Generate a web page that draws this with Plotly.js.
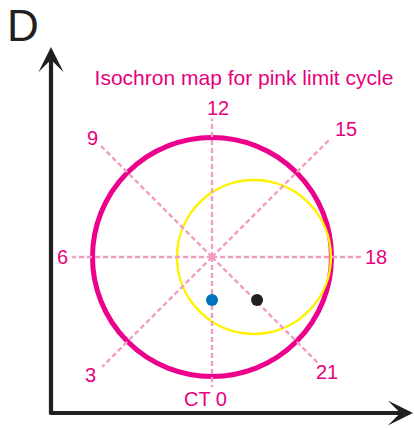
<!DOCTYPE html>
<html>
<head>
<meta charset="utf-8">
<script src="https://cdn.plot.ly/plotly-3.0.1.min.js"></script>
<style>html,body{margin:0;padding:0;background:#fff;}#chart{width:414px;height:428px;}</style>
</head>
<body>
<div id="chart"></div>
<script>
// ---- data (units: radius of the pink limit cycle = 1, centred at origin) ----
var panelLabel = 'D';
var chartTitle = 'Isochron map for pink limit cycle';
var phaseCT = [0, 3, 6, 9, 12, 15, 18, 21];
var phaseLabels = ['CT 0', '3', '6', '9', '12', '15', '18', '21'];
var rayLength = [1.09, 1.30, 1.17, 1.33, 1.16, 1.39, 1.26, 1.25];
var pinkCycle = {cx: 0, cy: 0, r: 1};
var yellowCycle = {cx: 0.351, cy: 0, r: 0.644};
var pointX = [0, 0.377];
var pointY = [-0.36, -0.36];
var pointColors = ['#0072bc', '#231f20'];

// ---- layout helpers (label placement only) ----
var labelRadius = [1.19, 1.40, 1.25, 1.41, 1.25, 1.51, 1.37, 1.36];
var labelShiftX = [-7, -3, 0, 0, 6, 6, 0, 0];

function ang(ct) { return (-90 - 15 * ct) * Math.PI / 180; }

var traces = [];
phaseCT.forEach(function (ct, i) {
  var a = ang(ct);
  traces.push({
    type: 'scatter', mode: 'lines',
    x: [0, rayLength[i] * Math.cos(a)],
    y: [0, rayLength[i] * Math.sin(a)],
    line: {color: '#f39cc3', width: 2.4, dash: '5px,3px'},
    hoverinfo: 'skip', showlegend: false
  });
});
traces.push({
  type: 'scatter', mode: 'markers',
  x: pointX, y: pointY,
  marker: {size: 12, color: pointColors, line: {width: 0}},
  hoverinfo: 'skip', showlegend: false
});

var annotations = phaseCT.map(function (ct, i) {
  var a = ang(ct);
  return {
    x: labelRadius[i] * Math.cos(a), y: labelRadius[i] * Math.sin(a),
    xref: 'x', yref: 'y', text: phaseLabels[i], showarrow: false,
    xanchor: 'center', yanchor: 'middle', xshift: labelShiftX[i],
    font: {family: 'Liberation Sans, Arial, sans-serif', size: 20, color: '#e6007e'}
  };
});
// panel letter
annotations.push({
  x: 23 / 414, y: 1 - 26 / 428, xref: 'paper', yref: 'paper', text: panelLabel,
  showarrow: false, xanchor: 'center', yanchor: 'middle',
  font: {family: 'Liberation Sans, Arial, sans-serif', size: 44, color: '#231f20'}
});
// axis arrows
annotations.push({
  x: 51 / 414, y: 1 - 47 / 428, xref: 'paper', yref: 'paper',
  ax: 0, ay: 369, axref: 'pixel', ayref: 'pixel', text: '',
  showarrow: true, arrowhead: 3, arrowsize: 1.0, arrowwidth: 4.2, arrowcolor: '#231f20'
});
annotations.push({
  x: 414 / 414, y: 1 - 413 / 428, xref: 'paper', yref: 'paper',
  ax: -365, ay: 0, axref: 'pixel', ayref: 'pixel', text: '',
  showarrow: true, arrowhead: 3, arrowsize: 1.0, arrowwidth: 4.2, arrowcolor: '#231f20'
});

function circleShape(c, color, w) {
  return {type: 'circle', xref: 'x', yref: 'y', layer: 'below',
    x0: c.cx - c.r, x1: c.cx + c.r, y0: c.cy - c.r, y1: c.cy + c.r,
    line: {color: color, width: w}, fillcolor: 'rgba(0,0,0,0)'};
}

var unit = 119.5, cxp = 212, cyp = 257;
var layout = {
  width: 414, height: 428,
  margin: {l: 0, r: 0, t: 0, b: 0},
  paper_bgcolor: '#ffffff', plot_bgcolor: '#ffffff',
  title: {
    text: chartTitle, x: 244 / 414, xref: 'container', xanchor: 'center',
    y: 1 - 78 / 428, yref: 'container', yanchor: 'middle',
    font: {family: 'Liberation Sans, Arial, sans-serif', size: 21, color: '#e6007e'}
  },
  xaxis: {range: [-cxp / unit, (414 - cxp) / unit], visible: false, fixedrange: true},
  yaxis: {range: [-(428 - cyp) / unit, cyp / unit], visible: false, fixedrange: true},
  shapes: [circleShape(pinkCycle, '#ec008c', 5), circleShape(yellowCycle, '#fff200', 2.5)],
  annotations: annotations,
  showlegend: false
};

Plotly.newPlot('chart', traces, layout, {displayModeBar: false, staticPlot: true});
</script>
</body>
</html>
